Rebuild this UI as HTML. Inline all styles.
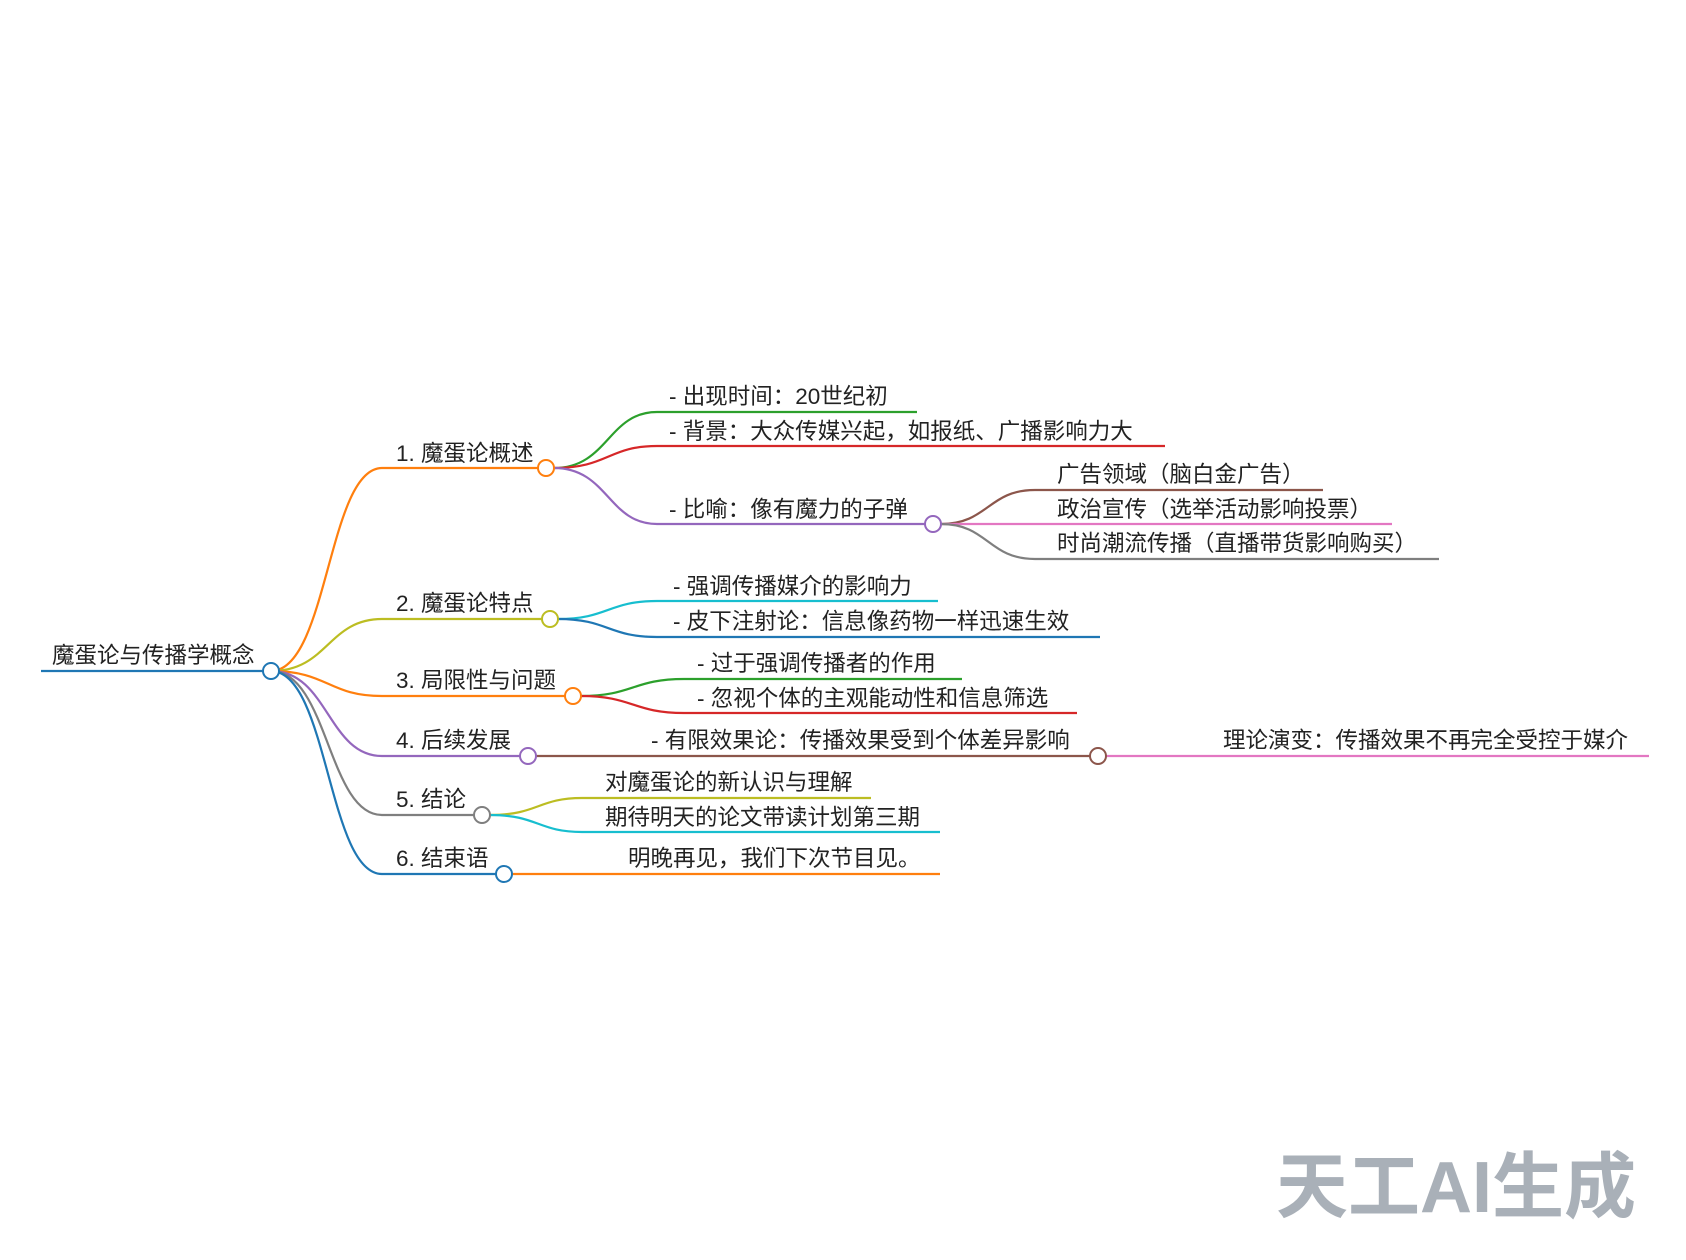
<!DOCTYPE html>
<html><head><meta charset="utf-8"><style>
html,body{margin:0;padding:0;background:#fff;}
svg{display:block;}
text{font-family:"Liberation Sans","Noto Sans CJK SC",sans-serif;font-size:22.5px;fill:#222;}
</style></head><body>
<svg width="1686" height="1260" viewBox="0 0 1686 1260" xmlns="http://www.w3.org/2000/svg">
<g transform="translate(-2,-2)">
<g fill="none" stroke-width="2.2">
<path d="M43 673 H265" stroke="#1f77b4"/>
<path d="M273 673 C330 673 330 470 384 470 H540" stroke="#ff7f0e"/>
<path d="M273 673 C330 673 330 621 384 621 H544" stroke="#bcbd22"/>
<path d="M273 673 C330 673 330 698 384 698 H567" stroke="#ff7f0e"/>
<path d="M273 673 C330 673 330 758 384 758 H522" stroke="#9467bd"/>
<path d="M273 673 C330 673 330 817 384 817 H476" stroke="#7f7f7f"/>
<path d="M273 673 C330 673 330 876 384 876 H498" stroke="#1f77b4"/>
<path d="M556 470 C610 470 610 414 659 414 H919" stroke="#2ca02c"/>
<path d="M556 470 C610 470 610 448 659 448 H1167" stroke="#d62728"/>
<path d="M556 470 C610 470 610 526 659 526 H927" stroke="#9467bd"/>
<path d="M943 526 C990 526 990 492 1037 492 H1325" stroke="#8c564b"/>
<path d="M943 526 H1394" stroke="#e377c2"/>
<path d="M943 526 C990 526 990 561 1037 561 H1441" stroke="#7f7f7f"/>
<path d="M560 621 C610 621 610 603 659 603 H940" stroke="#17becf"/>
<path d="M560 621 C610 621 610 639 659 639 H1102" stroke="#1f77b4"/>
<path d="M583 698 C635 698 635 681 686 681 H964" stroke="#2ca02c"/>
<path d="M583 698 C635 698 635 715 686 715 H1079" stroke="#d62728"/>
<path d="M538 758 H1092" stroke="#8c564b"/>
<path d="M1108 758 H1651" stroke="#e377c2"/>
<path d="M492 817 C540 817 540 800 584 800 H873" stroke="#bcbd22"/>
<path d="M492 817 C540 817 540 834 584 834 H942" stroke="#17becf"/>
<path d="M514 876 H942" stroke="#ff7f0e"/>
</g>
<g fill="#fff" stroke-width="2">
<circle cx="273" cy="673" r="8" stroke="#1f77b4"/>
<circle cx="548" cy="470" r="8" stroke="#ff7f0e"/>
<circle cx="552" cy="621" r="8" stroke="#bcbd22"/>
<circle cx="575" cy="698" r="8" stroke="#ff7f0e"/>
<circle cx="530" cy="758" r="8" stroke="#9467bd"/>
<circle cx="484" cy="817" r="8" stroke="#7f7f7f"/>
<circle cx="506" cy="876" r="8" stroke="#1f77b4"/>
<circle cx="935" cy="526" r="8" stroke="#9467bd"/>
<circle cx="1100" cy="758" r="8" stroke="#8c564b"/>
</g>
<text x="54" y="665">魔蛋论与传播学概念</text>
<text x="398" y="463">1. 魔蛋论概述</text>
<text x="398" y="613">2. 魔蛋论特点</text>
<text x="398" y="690">3. 局限性与问题</text>
<text x="398" y="750">4. 后续发展</text>
<text x="398" y="809">5. 结论</text>
<text x="398" y="868">6. 结束语</text>
<text x="671" y="406">- 出现时间：20世纪初</text>
<text x="671" y="441">- 背景：大众传媒兴起，如报纸、广播影响力大</text>
<text x="671" y="519">- 比喻：像有魔力的子弹</text>
<text x="1059" y="484">广告领域（脑白金广告）</text>
<text x="1059" y="519">政治宣传（选举活动影响投票）</text>
<text x="1059" y="553">时尚潮流传播（直播带货影响购买）</text>
<text x="675" y="596">- 强调传播媒介的影响力</text>
<text x="675" y="631">- 皮下注射论：信息像药物一样迅速生效</text>
<text x="699" y="673">- 过于强调传播者的作用</text>
<text x="699" y="708">- 忽视个体的主观能动性和信息筛选</text>
<text x="653" y="750">- 有限效果论：传播效果受到个体差异影响</text>
<text x="1225" y="750">理论演变：传播效果不再完全受控于媒介</text>
<text x="607" y="792">对魔蛋论的新认识与理解</text>
<text x="607" y="827">期待明天的论文带读计划第三期</text>
<text x="630" y="868">明晚再见，我们下次节目见。</text>
</g>
<text x="1276" y="1212" style="font-size:72px;font-weight:bold;fill:#a9b0b8">天工AI生成</text>
</svg>
</body></html>
